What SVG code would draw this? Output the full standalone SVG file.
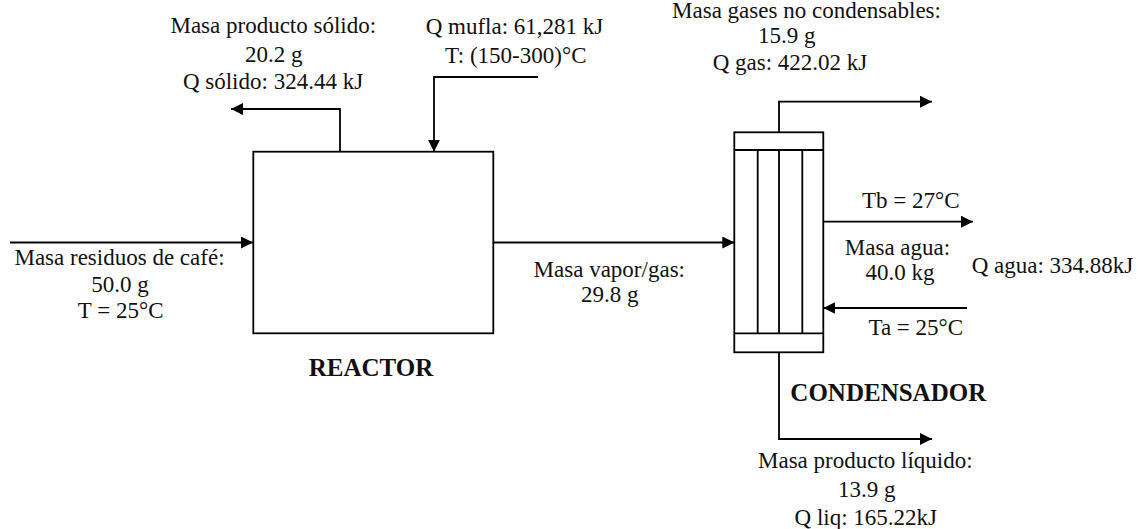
<svg xmlns="http://www.w3.org/2000/svg" width="1138" height="529" viewBox="0 0 1138 529" font-family="'Liberation Serif', 'Times New Roman', serif">
<style>
.ln{fill:none;stroke:#000;stroke-width:1.8}
.box{fill:#fff;stroke:#000;stroke-width:1.8}
.lblc{font-family:'Liberation Serif','Times New Roman',serif;font-size:23px;fill:#111;text-anchor:middle}
.lbll{font-family:'Liberation Serif','Times New Roman',serif;font-size:23px;fill:#111}
.head{font-family:'Liberation Serif','Times New Roman',serif;font-size:25px;font-weight:bold;fill:#111;text-anchor:middle}
</style>
<defs>
<marker id="ah" markerUnits="userSpaceOnUse" markerWidth="12" markerHeight="12" viewBox="0 0 10 10" refX="10" refY="5" orient="auto">
<path d="M0,0 L10,5 L0,10 z" fill="#000"/>
</marker>
</defs>
<rect width="1138" height="529" fill="#fff"/>

<g id="connectors">
<path class="ln" d="M10,242.5 H253" marker-end="url(#ah)"/>
<path class="ln" d="M340,151.7 V109 H231" marker-end="url(#ah)"/>
<path class="ln" d="M538,77 H434 V151.7" marker-end="url(#ah)"/>
<path class="ln" d="M493.3,242.5 H734.3" marker-end="url(#ah)"/>
<path class="ln" d="M779,132.3 V101.7 H932" marker-end="url(#ah)"/>
<path class="ln" d="M823.3,221.7 H973" marker-end="url(#ah)"/>
<path class="ln" d="M967,308 H823.3" marker-end="url(#ah)"/>
<path class="ln" d="M779,352.3 V439 H932" marker-end="url(#ah)"/>
</g>

<g id="reactor">
<rect class="box" x="253.3" y="151.7" width="240" height="181.6"/>
<text class="head" x="371" y="376">REACTOR</text>
</g>

<g id="condenser">
<rect class="box" x="734.3" y="132.3" width="89" height="220"/>
<path class="ln" d="M734.3,150 H823.3 M734.3,333.3 H823.3 M757.7,150 V333.3 M779,150 V333.3 M802.3,150 V333.3"/>
<text class="head" x="888.3" y="400.7">CONDENSADOR</text>
</g>

<g id="label-solid">
<text class="lblc" x="273.3" y="33.3">Masa producto sólido:</text>
<text class="lblc" x="273.8" y="61.7">20.2 g</text>
<text class="lblc" x="273" y="89.3">Q sólido: 324.44 kJ</text>
</g>

<g id="label-mufla">
<text class="lblc" x="514.5" y="33.5">Q mufla: 61,281 kJ</text>
<text class="lblc" x="515.7" y="62.7">T: (150-300)°C</text>
</g>

<g id="label-feed">
<text class="lblc" x="119.5" y="265">Masa residuos de café:</text>
<text class="lblc" x="120" y="291.7">50.0 g</text>
<text class="lblc" x="120.7" y="318.3">T = 25°C</text>
</g>

<g id="label-vapor">
<text class="lblc" x="609.3" y="276.7">Masa vapor/gas:</text>
<text class="lblc" x="609.7" y="301.7">29.8 g</text>
</g>

<g id="label-gas">
<text class="lblc" x="806.5" y="18.3">Masa gases no condensables:</text>
<text class="lblc" x="786.8" y="43">15.9 g</text>
<text class="lblc" x="790" y="70">Q gas: 422.02 kJ</text>
</g>

<g id="label-water">
<text class="lblc" x="910.8" y="208.3">Tb = 27°C</text>
<text class="lblc" x="897.5" y="255">Masa agua:</text>
<text class="lblc" x="900" y="280">40.0 kg</text>
<text class="lbll" x="971.7" y="273.3">Q agua: 334.88kJ</text>
<text class="lblc" x="915.8" y="335">Ta = 25°C</text>
</g>

<g id="label-liquid">
<text class="lblc" x="865.3" y="468.3">Masa producto líquido:</text>
<text class="lblc" x="866.7" y="496.7">13.9 g</text>
<text class="lblc" x="865.8" y="525">Q liq: 165.22kJ</text>
</g>
</svg>
